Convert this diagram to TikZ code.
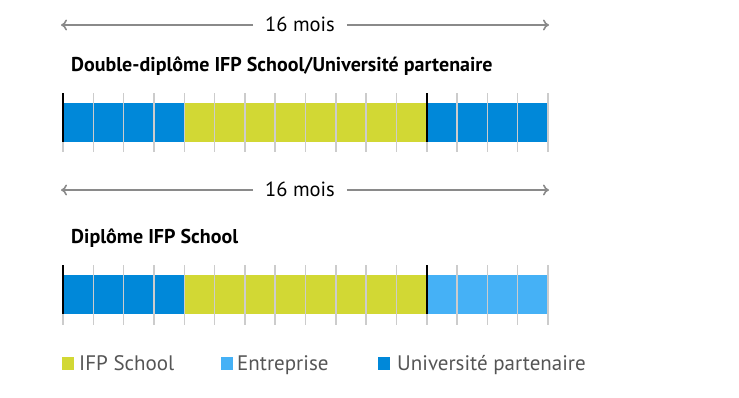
\documentclass[tikz,border=0pt]{standalone}
\usepackage{fontspec}
\setmainfont{PT Sans}
\usepackage{tikz}
\usetikzlibrary{positioning,arrows.meta,calc}
\definecolor{unibleu}{HTML}{0088D9}
\definecolor{entbleu}{HTML}{45B1F6}
\definecolor{ifpvert}{HTML}{D2D834}
\definecolor{grille}{HTML}{CCCCCC}
\definecolor{fleche}{HTML}{8A8A8A}
\definecolor{legtexte}{HTML}{555555}
\tikzset{
  dureearrow/.style={-{To[length=6pt,width=11pt]}, line width=1.6pt, fleche},
  dureetxt/.style={font=\fontsize{20.5}{22}\selectfont, inner sep=0pt},
  titre/.style={font=\bfseries\fontsize{20}{22}\selectfont, anchor=base west, inner sep=0pt},
  gridline/.style={grille, line width=1.5pt},
  sepline/.style={black, line width=1.5pt},
  legcarre/.style={minimum width=12pt, minimum height=12.5pt, inner sep=0pt},
  legtxt/.style={font=\fontsize{21}{23}\selectfont, text=legtexte, inner sep=0pt, anchor=base west}
}
\begin{document}
\begin{tikzpicture}[x=1pt, y=-1pt]
  \useasboundingbox (0,0) rectangle (739,397);
  % duree
  \node[dureetxt] (d1) at (300,24) {16 mois};
  \node[dureetxt] (d2) at (300,189) {16 mois};
  \coordinate (g1) at (61,25);
  \coordinate (r1) at (549,25);
  \coordinate (g2) at (61,190);
  \coordinate (r2) at (549,190);
  \draw[dureearrow] (d1.west |- g1) ++(-12,0) -- (g1);
  \draw[dureearrow] (d1.east |- r1) ++(12,0) -- (r1);
  \draw[dureearrow] (d2.west |- g2) ++(-12,0) -- (g2);
  \draw[dureearrow] (d2.east |- r2) ++(12,0) -- (r2);
  % titres
  \node[titre] (t1) at (71,71) {Double-diplôme IFP School/Université partenaire};
  \node[titre] (t2) at (71,243) {Diplôme IFP School};
  % barre 1
  \fill[unibleu] (63,103) rectangle (184.25,142);
  \fill[ifpvert] (184.25,103) rectangle (426.75,142);
  \fill[unibleu] (426.75,103) rectangle (548,142);
  % barre 2
  \fill[unibleu] (63,275) rectangle (184.25,314);
  \fill[ifpvert] (184.25,275) rectangle (426.75,314);
  \fill[entbleu] (426.75,275) rectangle (548,314);
  \foreach \i in {1,...,16} {
    \draw[gridline] ({63+30.3125*\i},93) -- ({63+30.3125*\i},152);
    \draw[gridline] ({63+30.3125*\i},265) -- ({63+30.3125*\i},325);
  }
  \draw[gridline] (63,142) -- (63,152);
  \draw[gridline] (63,314) -- (63,325);
  \draw[sepline] (63,93) -- (63,142);
  \draw[sepline] (426.75,93) -- (426.75,142);
  \draw[sepline] (63,265) -- (63,314);
  \draw[sepline] (426.75,265) -- (426.75,314);
  % legende
  \node[legcarre, fill=ifpvert, anchor=south west] (c1) at (62,370) {};
  \node[legtxt] (l1) at (79,370.5) {IFP School};
  \node[legcarre, fill=entbleu, anchor=south west] (c2) at (221,370) {};
  \node[legtxt] (l2) at (237,370.5) {Entreprise};
  \node[legcarre, fill=unibleu, anchor=south west] (c3) at (378,370) {};
  \node[legtxt] (l3) at (397,370.5) {Université partenaire};
\end{tikzpicture}
\end{document}
